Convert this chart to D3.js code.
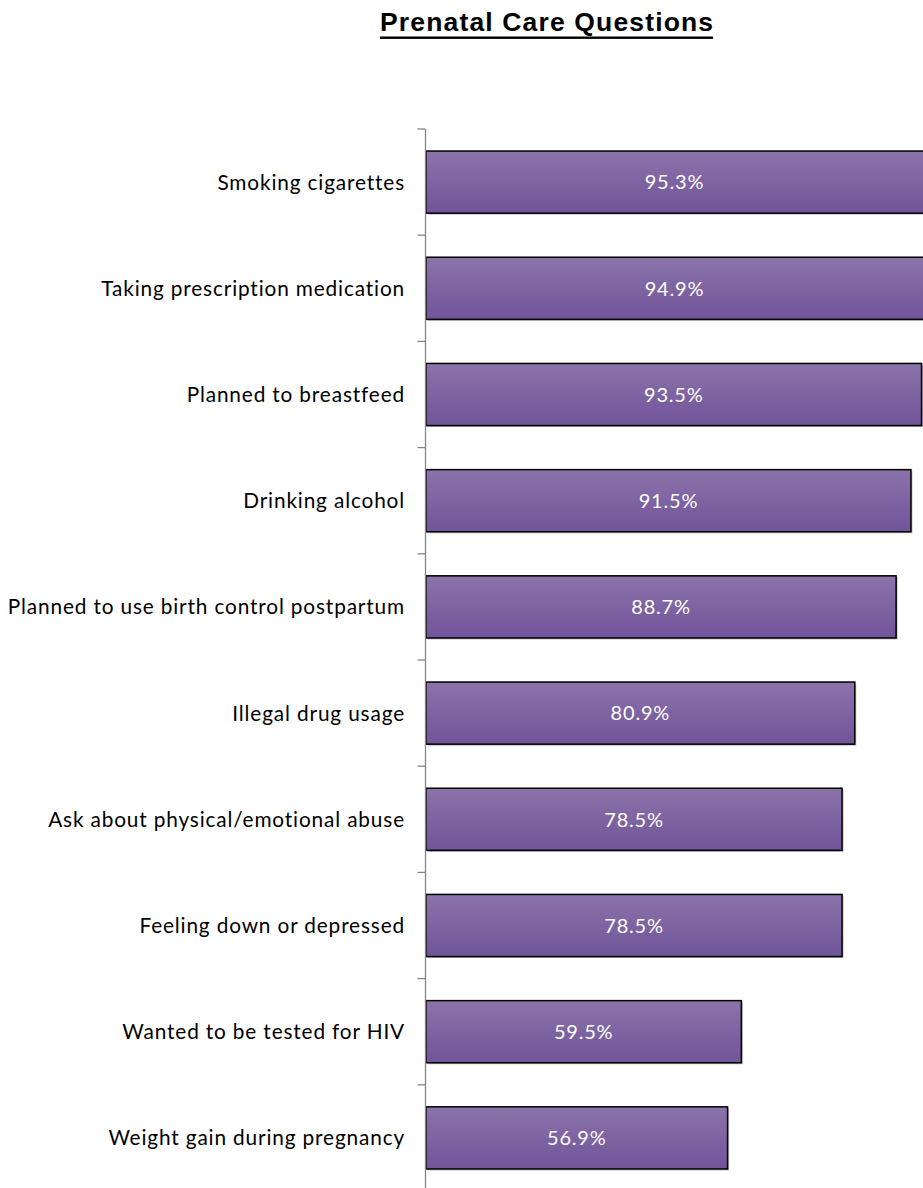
<!DOCTYPE html>
<html>
<head>
<meta charset="utf-8">
<script src="https://cdn.jsdelivr.net/npm/d3@7"></script>
<style>
  html, body { margin: 0; padding: 0; background: #fff; }
  svg { display: block; }
</style>
</head>
<body>
<svg id="chart" width="923" height="1188"></svg>
<script>
// Share of respondents whose provider asked about each topic
const categories = [
  "Smoking cigarettes",
  "Taking prescription medication",
  "Planned to breastfeed",
  "Drinking alcohol",
  "Planned to use birth control postpartum",
  "Illegal drug usage",
  "Ask about physical/emotional abuse",
  "Feeling down or depressed",
  "Wanted to be tested for HIV",
  "Weight gain during pregnancy"
];
const values = [95.3, 94.9, 93.5, 91.5, 88.7, 80.9, 78.5, 78.5, 59.5, 56.9];
const chartTitle = "Prenatal Care Questions";

const W = 923, H = 1188;
const svg = d3.select("#chart");

const xScale = d3.scaleLinear().domain([0, 100]).range([426, 956]);
const yScale = d3.scaleBand()
  .domain(categories)
  .range([129, 129 + 106.2 * categories.length])
  .paddingInner(0.415)
  .paddingOuter(0.2075);

// Gradient fill for the bars
const defs = svg.append("defs");
const grad = defs.append("linearGradient")
  .attr("id", "barGrad").attr("x1", 0).attr("y1", 0).attr("x2", 0).attr("y2", 1);
grad.append("stop").attr("offset", "0%").attr("stop-color", "#8b73aa");
grad.append("stop").attr("offset", "100%").attr("stop-color", "#71549a");

defs.append("clipPath").attr("id", "plotClip")
  .append("rect").attr("x", 0).attr("y", 0).attr("width", W).attr("height", H);

// Title, underlined
const titleSpacing = 1.15;
const title = svg.append("text")
  .attr("x", 380).attr("y", 31)
  .attr("font-family", "Liberation Sans, Arial, sans-serif")
  .attr("font-weight", "bold")
  .attr("font-size", 26.5)
  .attr("letter-spacing", titleSpacing)
  .attr("fill", "#000")
  .text(chartTitle);
const tb = title.node().getBBox();
svg.append("rect")
  .attr("x", tb.x).attr("y", 36.5)
  .attr("width", tb.width - titleSpacing).attr("height", 2.4)
  .attr("fill", "#000");

// Bars
const bars = svg.append("g").attr("clip-path", "url(#plotClip)");
const rowData = categories.map((c, i) => ({ cat: c, val: values[i] }));

// soft shadow on the right/bottom edges
bars.selectAll("rect.shadow").data(rowData).join("rect")
  .attr("class", "shadow")
  .attr("x", xScale(0) + 1.5)
  .attr("y", d => yScale(d.cat) + 1.5)
  .attr("width", d => xScale(d.val) - xScale(0))
  .attr("height", yScale.bandwidth())
  .attr("fill", "#bbb");

bars.selectAll("rect.bar").data(rowData).join("rect")
  .attr("class", "bar")
  .attr("x", xScale(0))
  .attr("y", d => yScale(d.cat))
  .attr("width", d => xScale(d.val) - xScale(0))
  .attr("height", yScale.bandwidth())
  .attr("fill", "url(#barGrad)")
  .attr("stroke", "#000")
  .attr("stroke-width", 1.5);

// Value labels centred in the visible part of each bar
svg.append("g").selectAll("text").data(rowData).join("text")
  .attr("x", d => (xScale(0) + Math.min(xScale(d.val), W)) / 2)
  .attr("y", d => yScale(d.cat) + yScale.bandwidth() / 2)
  .attr("dy", "0.36em")
  .attr("text-anchor", "middle")
  .attr("font-family", "Lato, Carlito, sans-serif")
  .attr("font-size", 20)
  .attr("letter-spacing", 0.8)
  .attr("fill", "#fff")
  .text(d => d.val.toFixed(1) + "%");

// Category axis
const axis = d3.axisLeft(yScale).tickSize(0).tickPadding(21);
const gAxis = svg.append("g").attr("transform", `translate(${xScale(0)},0)`).call(axis);
gAxis.select(".domain").remove();
gAxis.selectAll("text")
  .attr("font-family", "Lato, Carlito, sans-serif")
  .attr("font-size", 20.8)
  .attr("letter-spacing", 0.85)
  .attr("dy", "0.36em")
  .attr("fill", "#000");

// Axis line with tick marks between categories
const axisX = xScale(0) - 0.5;
svg.append("line")
  .attr("x1", axisX).attr("x2", axisX)
  .attr("y1", yScale.range()[0]).attr("y2", H)
  .attr("stroke", "#868686").attr("stroke-width", 1.3);
const boundaries = categories.map(c => yScale(c) - yScale.step() * yScale.paddingOuter());
svg.append("g").selectAll("line").data(boundaries).join("line")
  .attr("x1", axisX - 8).attr("x2", axisX)
  .attr("y1", d => d).attr("y2", d => d)
  .attr("stroke", "#868686").attr("stroke-width", 1.3);
</script>
</body>
</html>
